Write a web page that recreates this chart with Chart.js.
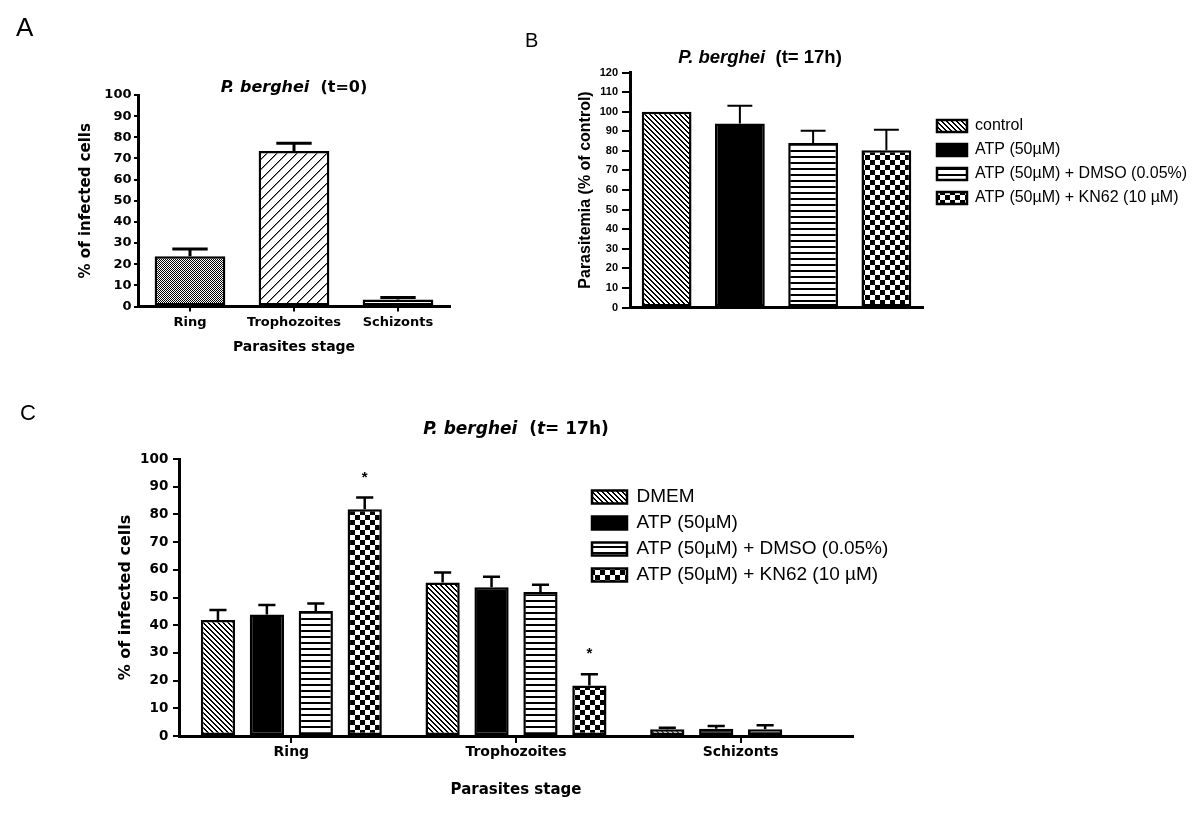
<!DOCTYPE html>
<html>
<head>
<meta charset="utf-8">
<script src="https://cdn.jsdelivr.net/npm/chart.js@4.4.1/dist/chart.umd.min.js"></script>
<style>
  html, body { margin: 0; padding: 0; background: #fff; }
  #page { position: relative; width: 1200px; height: 815px; overflow: hidden; }
  #page canvas { position: absolute; left: 0; top: 0; }
  .panel { position: absolute; font-family: "Liberation Sans", Arial, sans-serif; line-height: 1; color: #000; }
</style>
</head>
<body>
<div id="page">
  <canvas id="chartA" width="1200" height="815"></canvas>
  <canvas id="chartB" width="1200" height="815"></canvas>
  <canvas id="chartC" width="1200" height="815"></canvas>
  <div class="panel" style="left:16px;top:14px;font-size:26px">A</div>
  <div class="panel" style="left:525px;top:30px;font-size:20px">B</div>
  <div class="panel" style="left:20px;top:402px;font-size:22px">C</div>
</div>
<script>
// A: parasite stages at t=0
const stagesT0 = ["Ring", "Trophozoites", "Schizonts"];
const infectedT0 = [23.8, 73.5, 3.3];
const infectedT0Err = [3.4, 3.7, 1.0];

// B: parasitemia at 17h, % of control
const treatmentsB = ["control", "ATP (50µM)", "ATP (50µM) + DMSO (0.05%)", "ATP (50µM) + KN62 (10 µM)"];
const parasitemia = [100, 94, 84, 80.3];
const parasitemiaErr = [0, 9, 6.2, 10.5];

// C: parasite stages at 17h per treatment
const stagesT17 = ["Ring", "Trophozoites", "Schizonts"];
const treatmentsC = ["DMEM", "ATP (50µM)", "ATP (50µM) + DMSO (0.05%)", "ATP (50µM) + KN62 (10 µM)"];
const dmemT17 = [41.9, 55.4, 2.4];
const dmemT17Err = [3.6, 3.6, 0.6];
const atpT17 = [43.9, 53.7, 2.6];
const atpT17Err = [3.4, 3.8, 1.0];
const dmsoT17 = [45.1, 52.0, 2.4];
const dmsoT17Err = [2.7, 2.6, 1.5];
const kn62T17 = [81.9, 18.2, null];
const kn62T17Err = [4.2, 4.1, null];
const kn62Signif = [true, true, false];

Chart.defaults.color = "#000";
Chart.defaults.font.family = "DejaVu Sans";

const ARIAL = "'Liberation Sans', Arial";

function makePattern(w, h, draw) {
  const c = document.createElement("canvas");
  c.width = w;
  c.height = h;
  const g = c.getContext("2d");
  g.fillStyle = "#fff";
  g.fillRect(0, 0, w, h);
  g.fillStyle = "#000";
  draw(g);
  return g.createPattern(c, "repeat");
}

const fineCheck = makePattern(2, 2, g => {
  g.fillRect(0, 0, 1, 1);
  g.fillRect(1, 1, 1, 1);
});
const diagUp = makePattern(10, 10, g => {
  for (let i = 0; i < 10; i++) {
    g.fillStyle = "#000";
    g.fillRect(i, 9 - i, 1, 1);
    g.fillStyle = "#888";
    g.fillRect(i, (10 - i) % 10, 1, 1);
  }
});
const diagDown = makePattern(5, 5, g => {
  for (let i = 0; i < 5; i++) {
    g.fillRect(i, i, 1, 1);
    g.fillRect((i + 1) % 5, i, 1, 1);
  }
});
const hLines = makePattern(4, 6, g => g.fillRect(0, 0, 4, 2));
const checker = makePattern(10, 10, g => {
  g.fillRect(0, 0, 5, 5);
  g.fillRect(5, 5, 5, 5);
});

// title with italic parts, centred over the plot area
const richTitle = {
  id: "richTitle",
  afterDraw(chart, args, opts) {
    if (!opts.parts) return;
    const ctx = chart.ctx;
    const area = chart.chartArea;
    const cx = (area.left + area.right) / 2 + (opts.dx || 0);
    const cy = area.top - opts.dy;
    const fonts = opts.parts.map(p => (p.italic ? "italic " : "") + "bold " + opts.size + "px " + opts.family);
    ctx.save();
    const widths = opts.parts.map((p, i) => {
      ctx.font = fonts[i];
      return ctx.measureText(p.text).width;
    });
    let x = cx - widths.reduce((a, b) => a + b, 0) / 2;
    ctx.fillStyle = "#000";
    ctx.textAlign = "left";
    ctx.textBaseline = "middle";
    opts.parts.forEach((p, i) => {
      ctx.font = fonts[i];
      ctx.fillText(p.text, x, cy);
      x += widths[i];
    });
    ctx.restore();
  }
};

// upward-only SEM bars, plus significance stars
const errorBars = {
  id: "errorBars",
  afterDatasetsDraw(chart, args, opts) {
    const ctx = chart.ctx;
    const y = chart.scales.y;
    ctx.save();
    ctx.strokeStyle = "#000";
    ctx.fillStyle = "#000";
    ctx.lineWidth = opts.lineWidth;
    chart.data.datasets.forEach((ds, di) => {
      if (!ds.errors) return;
      chart.getDatasetMeta(di).data.forEach((bar, i) => {
        const v = ds.data[i];
        const e = ds.errors[i];
        if (v == null) return;
        const top = y.getPixelForValue(v + (e || 0));
        if (e) {
          const half = bar.width / 4;
          ctx.beginPath();
          ctx.moveTo(bar.x, bar.y);
          ctx.lineTo(bar.x, top);
          ctx.moveTo(bar.x - half, top);
          ctx.lineTo(bar.x + half, top);
          ctx.stroke();
        }
        if (ds.stars && ds.stars[i]) {
          ctx.font = "bold 15px " + ARIAL;
          ctx.textAlign = "center";
          ctx.textBaseline = "alphabetic";
          ctx.fillText("*", bar.x, top - opts.starGap);
        }
      });
    });
    ctx.restore();
  }
};

// put the legend at a fixed spot beside the plot
const placeLegend = {
  id: "placeLegend",
  afterLayout(chart, args, opts) {
    const lg = chart.legend;
    if (!lg || opts.x == null) return;
    const w = lg.width;
    const h = lg.height;
    lg.left = opts.x;
    lg.right = opts.x + w;
    lg.top = opts.y;
    lg.bottom = opts.y + h;
  }
};

function yAxis(o) {
  return {
    min: 0,
    max: o.max,
    afterFit: s => { s.width = o.width; },
    border: { color: "#000", width: 3 },
    grid: { drawOnChartArea: false, color: "#000", lineWidth: 2, tickLength: o.tick },
    ticks: { stepSize: 10, autoSkip: false, maxTicksLimit: 20, padding: o.pad, font: o.font },
    title: { display: true, text: o.title, padding: 0, font: o.titleFont }
  };
}

function xAxis(o) {
  return {
    afterFit: s => { s.height = o.height; },
    border: { color: "#000", width: 3 },
    grid: { offset: false, drawOnChartArea: false, drawTicks: o.tick > 0, color: "#000", lineWidth: 2, tickLength: o.tick },
    ticks: { display: o.labels, autoSkip: false, maxRotation: 0, minRotation: 0, padding: o.pad, font: o.font },
    title: { display: !!o.title, text: o.title, padding: 0, font: o.titleFont }
  };
}

new Chart(document.getElementById("chartA"), {
  type: "bar",
  data: {
    labels: stagesT0,
    datasets: [{
      data: infectedT0,
      errors: infectedT0Err,
      backgroundColor: [fineCheck, diagUp, "#fff"],
      borderColor: "#000",
      borderWidth: 2.5,
      borderSkipped: false,
      barPercentage: 0.68,
      categoryPercentage: 1
    }]
  },
  options: {
    responsive: false,
    animation: false,
    events: [],
    layout: { padding: { left: 77, right: 750, top: 95, bottom: 459.5 } },
    scales: {
      x: xAxis({ height: 49, tick: 5, pad: 3.5, labels: true,
        font: { size: 13, weight: "bold" },
        title: "Parasites stage", titleFont: { size: 14, weight: "bold" } }),
      y: yAxis({ max: 100, width: 61, tick: 4, pad: 2.5,
        font: { size: 13, weight: "bold" },
        title: "% of infected cells", titleFont: { size: 15, weight: "bold" } })
    },
    plugins: {
      legend: { display: false },
      tooltip: { enabled: false },
      richTitle: { parts: [{ text: "P. berghei", italic: true }, { text: "  (t=0)" }],
        size: 16, family: "'DejaVu Sans'", dx: 0, dy: 7 },
      errorBars: { lineWidth: 3, starGap: 14 }
    }
  },
  plugins: [richTitle, errorBars]
});

const patternsB = [diagDown, "#000", hLines, checker];
new Chart(document.getElementById("chartB"), {
  type: "bar",
  data: {
    labels: [""],
    datasets: treatmentsB.map((name, i) => ({
      label: name,
      data: [parasitemia[i]],
      errors: [parasitemiaErr[i]],
      backgroundColor: patternsB[i],
      borderColor: "#000",
      borderWidth: 2.5,
      borderSkipped: false,
      barPercentage: 0.68,
      categoryPercentage: 1
    }))
  },
  options: {
    responsive: false,
    animation: false,
    events: [],
    layout: { padding: { left: 576.4, right: 277, top: 72.5, bottom: 507.5 } },
    scales: {
      x: xAxis({ height: 0, tick: 0, pad: 0, labels: false, font: { size: 11 } }),
      y: yAxis({ max: 120, width: 53.6, tick: 8, pad: 4,
        font: { family: ARIAL, size: 11, weight: "bold" },
        title: "Parasitemia (% of control)",
        titleFont: { family: ARIAL, size: 16, weight: "bold" } })
    },
    plugins: {
      legend: {
        position: "chartArea",
        align: "start",
        labels: { boxWidth: 30, boxHeight: 12, padding: 8,
          font: { family: ARIAL, size: 16 } }
      },
      tooltip: { enabled: false },
      placeLegend: { x: 929, y: 110 },
      richTitle: { parts: [{ text: "P. berghei", italic: true }, { text: "  (t= 17h)" }],
        size: 18.5, family: ARIAL, dx: -16.5, dy: 14.5 },
      errorBars: { lineWidth: 2, starGap: 14 }
    }
  },
  plugins: [placeLegend, richTitle, errorBars]
});

const seriesC = [dmemT17, atpT17, dmsoT17, kn62T17];
const errorsC = [dmemT17Err, atpT17Err, dmsoT17Err, kn62T17Err];
const patternsC = [diagDown, "#000", hLines, checker];
new Chart(document.getElementById("chartC"), {
  type: "bar",
  data: {
    labels: stagesT17,
    datasets: treatmentsC.map((name, i) => ({
      label: name,
      data: seriesC[i],
      errors: errorsC[i],
      stars: i === 3 ? kn62Signif : null,
      backgroundColor: patternsC[i],
      borderColor: "#000",
      borderWidth: 2.5,
      borderSkipped: false,
      barPercentage: 0.7,
      categoryPercentage: 0.871
    }))
  },
  options: {
    responsive: false,
    animation: false,
    events: [],
    layout: { padding: { left: 116.4, right: 347, top: 459, bottom: 16 } },
    scales: {
      x: xAxis({ height: 63, tick: 7, pad: 0.6, labels: true,
        font: { size: 14, weight: "bold" },
        title: "Parasites stage", titleFont: { size: 15, weight: "bold" } }),
      y: yAxis({ max: 100, width: 62.6, tick: 6, pad: 4.7,
        font: { size: 13.5, weight: "bold" },
        title: "% of infected cells", titleFont: { size: 16, weight: "bold" } })
    },
    plugins: {
      legend: {
        position: "chartArea",
        align: "start",
        labels: { boxWidth: 35, boxHeight: 13, padding: 7,
          font: { family: ARIAL, size: 19 } }
      },
      tooltip: { enabled: false },
      placeLegend: { x: 585, y: 480.5 },
      richTitle: { parts: [{ text: "P. berghei", italic: true }, { text: "  (" }, { text: "t", italic: true }, { text: "= 17h)" }],
        size: 17, family: "'DejaVu Sans'", dx: 0, dy: 29 },
      errorBars: { lineWidth: 2.5, starGap: 16 }
    }
  },
  plugins: [placeLegend, richTitle, errorBars]
});
</script>
</body>
</html>
